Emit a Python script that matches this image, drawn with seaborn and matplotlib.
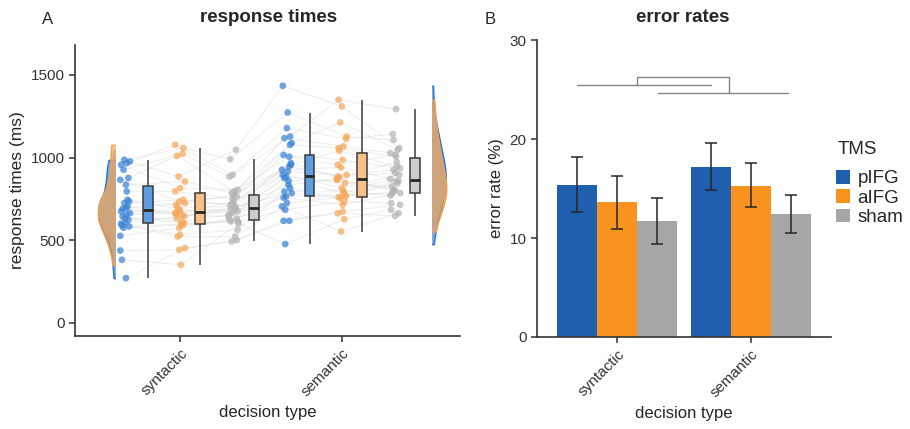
import numpy as np
import pandas as pd
import matplotlib
matplotlib.use("Agg")
import matplotlib.pyplot as plt
import seaborn as sns
from matplotlib.patches import Rectangle
from matplotlib.colors import to_rgba

# ------------------------------------------------------------------
# data
# ------------------------------------------------------------------
decisions = ["syntactic", "semantic"]
tms_levels = ["pIFG", "aIFG", "sham"]

# response times (ms), one value per participant (same participant order in every list)
rt_syn_pifg = [526, 270, 600, 655, 381, 744, 690, 623, 926, 583, 724, 976, 633, 437, 835,
               674, 966, 590, 704, 643, 876, 575, 734, 986, 664, 603, 865, 694, 956, 795]
rt_syn_aifg = [573, 452, 532, 664, 351, 714, 653, 633, 1022, 522, 744, 885, 603, 442, 855,
               684, 1077, 595, 660, 613, 1010, 590, 694, 1057, 674, 645, 734, 724, 815, 795]
rt_syn_sham = [630, 492, 563, 665, 600, 775, 643, 700, 885, 522, 710, 1047, 613, 500, 785,
               674, 895, 610, 734, 653, 795, 623, 704, 990, 690, 684, 764, 720, 805, 750]
rt_sem_pifg = [758, 617, 794, 815, 476, 956, 885, 785, 1178, 704, 915, 1434, 859, 617, 1005,
               875, 1127, 684, 966, 764, 1087, 724, 926, 1272, 895, 835, 1015, 946, 1117, 1077]
rt_sem_aifg = [714, 663, 799, 760, 627, 1040, 845, 754, 1113, 552, 895, 1309, 865, 673, 956,
               785, 1349, 734, 880, 774, 1212, 764, 940, 1127, 815, 870, 986, 885, 1067, 1057]
rt_sem_sham = [785, 647, 770, 855, 684, 946, 825, 845, 1142, 663, 926, 1057, 800, 714, 1016,
               870, 1293, 724, 972, 780, 1047, 794, 860, 1107, 895, 805, 936, 906, 1027, 1006]

# error rates (%) with lower / upper error-bar limits, order pIFG, aIFG, sham
err_syn = [15.4, 13.6, 11.7]
err_sem = [17.2, 15.3, 12.4]
err_lo_syn = [12.6, 10.9, 9.4]
err_hi_syn = [18.2, 16.3, 14.0]
err_lo_sem = [14.9, 13.1, 10.5]
err_hi_sem = [19.6, 17.6, 14.3]

# ------------------------------------------------------------------
# layout / style
# ------------------------------------------------------------------
pt_offset = [-0.34, 0.0, 0.33]
box_offset = [-0.20, 0.125, 0.455]
vio_pos = [-0.40, 1.556]

pt_colors = {"pIFG": "#3a83d6", "aIFG": "#f5a85a", "sham": "#b4b4b4"}
box_colors = {"pIFG": "#5d9de0", "aIFG": "#f8c08a", "sham": "#cdcdcd"}
vio_colors = {"pIFG": "#2f72cf", "aIFG": "#f0a24e", "sham": "#a9a9a9"}
bar_colors = {"pIFG": "#1f5fae", "aIFG": "#f7931e", "sham": "#a6a6a6"}
dark = "#333333"

sns.set_theme(style="ticks")
plt.rcParams["font.family"] = ["Liberation Sans", "DejaVu Sans"]
plt.rcParams["axes.edgecolor"] = dark
plt.rcParams["axes.linewidth"] = 1.2
plt.rcParams["xtick.color"] = dark
plt.rcParams["ytick.color"] = dark

fig = plt.figure(figsize=(9.1, 4.29), dpi=100)
axA = fig.add_axes([0.0824, 0.2168, 0.423, 0.678])
axB = fig.add_axes([0.590, 0.2145, 0.323, 0.692])

# ------------------------------------------------------------------
# A: response times (raincloud)
# ------------------------------------------------------------------
rt_lists = {
    ("syntactic", "pIFG"): rt_syn_pifg, ("syntactic", "aIFG"): rt_syn_aifg,
    ("syntactic", "sham"): rt_syn_sham, ("semantic", "pIFG"): rt_sem_pifg,
    ("semantic", "aIFG"): rt_sem_aifg, ("semantic", "sham"): rt_sem_sham,
}
rows = []
for d_i, dec in enumerate(decisions):
    for t_i, tms in enumerate(tms_levels):
        k = 3 * d_i + t_i
        for s, v in enumerate(rt_lists[(dec, tms)]):
            jit = ((s * 7 + k * 5) % 13 - 6) * 0.005
            rows.append(dict(subj=s, decision=dec, TMS=tms, rt=v,
                             xpt=d_i + pt_offset[t_i] + jit,
                             xbox=d_i + box_offset[t_i],
                             xvio=vio_pos[d_i]))
rt = pd.DataFrame(rows)

sns.lineplot(data=rt, x="xpt", y="rt", units="subj", estimator=None, sort=False,
             color="#cccccc", lw=0.6, alpha=0.4, ax=axA, zorder=1)
sns.scatterplot(data=rt, x="xpt", y="rt", hue="TMS", palette=pt_colors, s=24,
                alpha=0.72, edgecolor="none", legend=False, ax=axA, zorder=3)
sns.boxplot(data=rt, x="xbox", y="rt", hue="TMS", palette=box_colors, native_scale=True,
            dodge=False, width=0.19, showfliers=False, showcaps=False, linecolor="#3b3b3b",
            linewidth=1.1, saturation=1, legend=False, orient="x",
            medianprops=dict(color="#262626", linewidth=2.0), ax=axA)

n_before = len(axA.collections)
sns.violinplot(data=rt, x="xvio", y="rt", hue="TMS", hue_order=["pIFG", "sham", "aIFG"],
               palette=vio_colors, native_scale=True, dodge=False, width=0.11, inner=None,
               cut=0, saturation=1, linewidth=1.0, legend=False, orient="x", ax=axA)
for coll in axA.collections[n_before:]:
    paths = coll.get_paths()
    if not paths:
        continue
    cx = paths[0].vertices[:, 0].mean()
    fc = coll.get_facecolor()[0]
    coll.set_facecolor(to_rgba(fc, 0.6))
    coll.set_edgecolor(to_rgba(fc, 1.0))
    if cx < 0.6:
        clip = Rectangle((vio_pos[0] - 5, -1e4), 5, 2e4, transform=axA.transData)
    else:
        clip = Rectangle((vio_pos[1], -1e4), 5, 2e4, transform=axA.transData)
    coll.set_clip_path(clip)

axA.set_xlim(-0.65, 1.73)
axA.set_ylim(-80, 1680)
axA.set_yticks([0, 500, 1000, 1500])
axA.set_xticks([0, 1])
axA.set_xticklabels(decisions, rotation=45, ha="right", rotation_mode="anchor")
axA.tick_params(labelsize=11, length=4, width=1.1)
axA.set_xlabel("decision type", fontsize=12)
axA.set_ylabel("response times (ms)", fontsize=12.5)
sns.despine(ax=axA)

# ------------------------------------------------------------------
# B: error rates
# ------------------------------------------------------------------
er = pd.DataFrame({
    "decision": np.repeat(decisions, 3),
    "TMS": tms_levels * 2,
    "rate": err_syn + err_sem,
})
sns.barplot(data=er, x="decision", y="rate", hue="TMS", hue_order=tms_levels,
            palette=bar_colors, width=0.9, saturation=1, errorbar=None, linewidth=0,
            ax=axB, zorder=2)

bars = sorted([p for p in axB.patches if p.get_height() > 0], key=lambda p: p.get_x())
x_c = [p.get_x() + p.get_width() / 2 for p in bars]
means = np.array(err_syn + err_sem)
lo = np.array(err_lo_syn + err_lo_sem)
hi = np.array(err_hi_syn + err_hi_sem)
axB.errorbar(x_c, means, yerr=[means - lo, hi - means], fmt="none", ecolor="#262626",
             elinewidth=1.1, capsize=4, capthick=1.1, zorder=3)

# significance brackets: pIFG syn-sem, sham syn-sem, and the interaction link
sig_grey = "#858585"
axB.plot([-0.30, 0.70], [25.5, 25.5], color=sig_grey, lw=1)
axB.plot([0.31, 1.28], [24.7, 24.7], color=sig_grey, lw=1)
axB.plot([0.15, 0.15, 0.84, 0.84], [25.5, 26.3, 26.3, 24.7], color=sig_grey, lw=1)

axB.set_xlim(-0.6, 1.6)
axB.set_ylim(0, 30)
axB.set_yticks([0, 10, 20, 30])
axB.set_xticks([0, 1])
axB.set_xticklabels(decisions, rotation=45, ha="right", rotation_mode="anchor")
axB.tick_params(labelsize=11, length=4, width=1.1)
axB.set_xlabel("decision type", fontsize=12)
axB.set_ylabel("error rate (%)", fontsize=12)
sns.despine(ax=axB)

# legend: entries from seaborn's legend, title drawn separately for spacing
old_leg = axB.get_legend()
handles = old_leg.legend_handles
labels = [t.get_text() for t in old_leg.get_texts()]
old_leg.remove()
axB.legend(handles, labels, loc="upper left", bbox_to_anchor=(836 / 910, 1 - 170 / 429),
           bbox_transform=fig.transFigure, frameon=False, fontsize=13.5,
           handlelength=0.75, handleheight=0.75, handletextpad=0.4, labelspacing=0.1,
           borderaxespad=0.0, borderpad=0.0)
fig.text(838 / 910, 1 - 150 / 429, "TMS", ha="left", va="center", fontsize=13.5)

# titles and panel letters
fig.text(269 / 910, 1 - 18 / 429, "response times", ha="center", va="center",
         fontsize=13.5, fontweight="bold")
fig.text(683 / 910, 1 - 17 / 429, "error rates", ha="center", va="center",
         fontsize=13.5, fontweight="bold")
fig.text(42 / 910, 1 - 20 / 429, "A", ha="left", va="center", fontsize=12)
fig.text(485 / 910, 1 - 20 / 429, "B", ha="left", va="center", fontsize=12)

fig.savefig("out.png", dpi=100)
